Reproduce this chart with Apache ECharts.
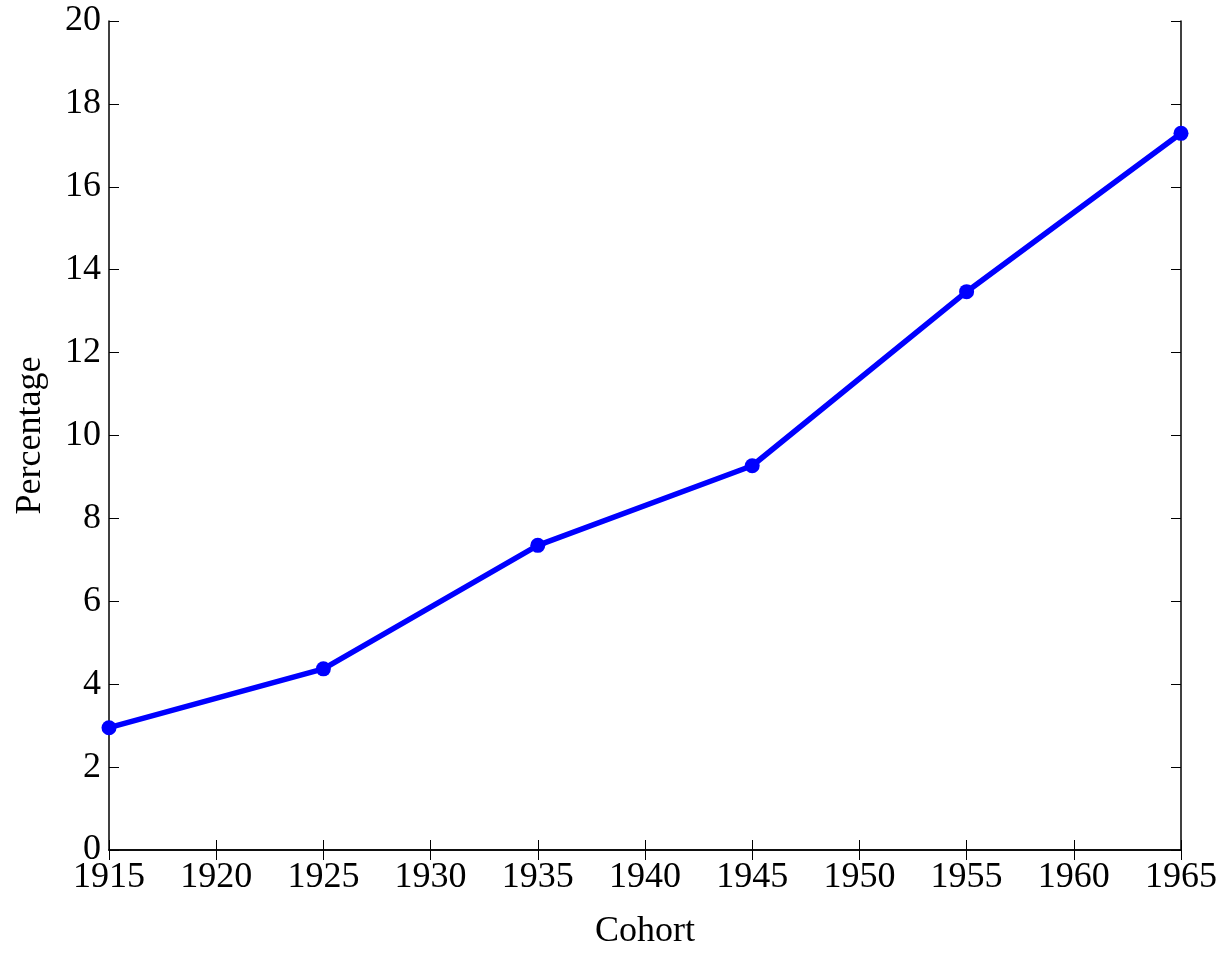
<!DOCTYPE html>
<html>
<head>
<meta charset="utf-8">
<script src="https://cdn.jsdelivr.net/npm/echarts@6/dist/echarts.min.js"></script>
<style>html,body{margin:0;padding:0;background:#fff;overflow:hidden}#c{width:1228px;height:955px}</style>
</head>
<body>
<div id="c"></div>
<script>
const cohorts = [1915, 1925, 1935, 1945, 1955, 1965];
const percentages = [2.95, 4.37, 7.35, 9.27, 13.47, 17.29];
const xTicks = [1915, 1920, 1925, 1930, 1935, 1940, 1945, 1950, 1955, 1960, 1965];
const yTicks = [0, 2, 4, 6, 8, 10, 12, 14, 16, 18, 20];

const font = '"Liberation Serif", "Times New Roman", serif';
const chart = echarts.init(document.getElementById('c'), null, {renderer: 'canvas', width: 1228, height: 955});
const axisLine = {show: true, lineStyle: {color: '#000', width: 1.5}};
const tick = {show: true, inside: true, length: 10, lineStyle: {color: '#000', width: 1}};
chart.setOption({
  animation: false,
  backgroundColor: '#fff',
  grid: {left: 109, top: 21, width: 1072, height: 833, containLabel: false},
  xAxis: [{
    type: 'value', min: xTicks[0], max: xTicks[xTicks.length-1], interval: 5,
    name: 'Cohort', nameLocation: 'middle', nameGap: 64,
    nameTextStyle: {fontFamily: font, fontSize: 36, color: '#000'},
    axisLine: axisLine, axisTick: tick, splitLine: {show: false},
    axisLabel: {fontFamily: font, fontSize: 36, color: '#000', margin: 10, formatter: v => String(v)}
  }, {
    type: 'value', position: 'top', min: xTicks[0], max: xTicks[xTicks.length-1], interval: 5,
    axisLine: axisLine, axisTick: tick, splitLine: {show: false}, axisLabel: {show: false}
  }],
  yAxis: [{
    type: 'value', min: yTicks[0], max: yTicks[yTicks.length-1], interval: 2,
    name: 'Percentage', nameLocation: 'middle', nameGap: 60,
    nameTextStyle: {fontFamily: font, fontSize: 36, color: '#000'},
    axisLine: axisLine, axisTick: tick, splitLine: {show: false},
    axisLabel: {fontFamily: font, fontSize: 36, color: '#000', margin: 8}
  }, {
    type: 'value', position: 'right', min: yTicks[0], max: yTicks[yTicks.length-1], interval: 2,
    axisLine: axisLine, axisTick: tick, splitLine: {show: false}, axisLabel: {show: false}
  }],
  series: [{
    type: 'line',
    data: cohorts.map((c, i) => [c, percentages[i]]),
    symbol: 'circle', symbolSize: 15,
    lineStyle: {color: '#0000ff', width: 5.5},
    itemStyle: {color: '#0000ff'},
    clip: false
  }]
});
</script>
</body>
</html>
